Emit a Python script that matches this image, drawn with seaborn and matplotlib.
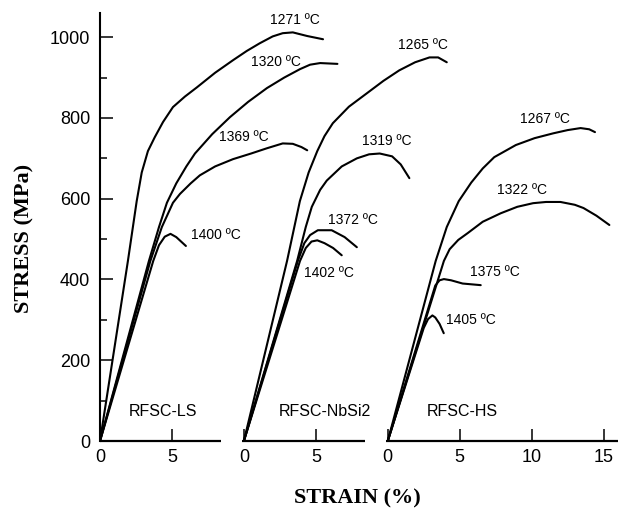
import matplotlib
matplotlib.use("Agg")
import matplotlib.pyplot as plt
import matplotlib.ticker as ticker
import pandas as pd
import seaborn as sns

sns.set_theme(style="ticks")
plt.rcParams["font.family"] = ["Liberation Sans", "DejaVu Sans"]

# --- stress-strain curves (strain %, stress MPa) ---
# RFSC-LS
ls_1271_strain = [0, 1.94, 2.55, 2.9, 3.33, 3.8, 4.38, 5.07, 5.9, 6.74, 8.0, 9.24, 10.2, 11.1, 12.0, 12.7, 13.4, 14.4, 15.5]
ls_1271_stress = [0, 446, 594, 665, 718, 752, 790, 827, 853, 876, 912, 943, 966, 985, 1002, 1010, 1012, 1003, 995]
ls_1320_strain = [0, 3.4, 4.1, 4.65, 5.3, 6.0, 6.6, 7.8, 9.03, 10.3, 11.6, 12.8, 13.9, 14.6, 15.3, 16.5]
ls_1320_stress = [0, 446, 530, 590, 638, 680, 712, 760, 802, 840, 874, 900, 921, 932, 936, 934]
ls_1369_strain = [0, 3.5, 4.3, 5.07, 5.56, 6.3, 6.94, 8.0, 9.24, 10.5, 11.6, 12.7, 13.4, 14.0, 14.4]
ls_1369_stress = [0, 446, 530, 590, 612, 638, 658, 680, 698, 712, 725, 737, 736, 728, 720]
ls_1400_strain = [0, 3.7, 4.1, 4.5, 4.9, 5.3, 5.97]
ls_1400_stress = [0, 446, 485, 506, 513, 505, 483]

# RFSC-NbSi2
nb_1265_strain = [0, 3.0, 3.89, 4.5, 5.1, 5.6, 6.18, 7.3, 8.54, 9.7, 10.8, 11.9, 12.9, 13.5, 14.1]
nb_1265_stress = [0, 446, 594, 665, 718, 755, 787, 828, 861, 892, 918, 938, 950, 950, 938]
nb_1319_strain = [0, 3.7, 4.3, 4.72, 5.3, 5.76, 6.8, 7.85, 8.7, 9.44, 10.3, 10.9, 11.5]
nb_1319_stress = [0, 446, 530, 580, 622, 645, 680, 700, 710, 712, 705, 685, 651]
nb_1372_strain = [0, 3.75, 4.2, 4.6, 5.14, 6.1, 7.0, 7.85]
nb_1372_stress = [0, 446, 490, 510, 522, 522, 505, 480]
nb_1402_strain = [0, 3.9, 4.3, 4.7, 5.1, 5.6, 6.2, 6.8]
nb_1402_stress = [0, 446, 478, 494, 497, 490, 478, 460]

# RFSC-HS
hs_1267_strain = [0, 3.33, 4.1, 4.93, 5.8, 6.6, 7.4, 8.9, 10.2, 11.5, 12.5, 13.4, 14.0, 14.4]
hs_1267_stress = [0, 446, 530, 594, 640, 675, 703, 733, 750, 762, 770, 775, 772, 765]
hs_1322_strain = [0, 3.9, 4.3, 4.9, 5.56, 6.6, 7.85, 9.0, 10.1, 11.0, 12.0, 13.0, 13.6, 14.5, 15.4]
hs_1322_stress = [0, 446, 475, 498, 515, 543, 564, 580, 589, 592, 592, 585, 577, 558, 535]
hs_1375_strain = [0, 3.0, 3.3, 3.6, 3.9, 4.4, 5.2, 6.46]
hs_1375_stress = [0, 350, 385, 398, 401, 398, 390, 386]
hs_1405_strain = [0, 2.5, 2.8, 3.1, 3.3, 3.6, 3.89]
hs_1405_stress = [0, 280, 302, 311, 306, 290, 267]

panels = ["RFSC-LS", "RFSC-NbSi2", "RFSC-HS"]
curves = [
    ("RFSC-LS", "1271 ºC", ls_1271_strain, ls_1271_stress),
    ("RFSC-LS", "1320 ºC", ls_1320_strain, ls_1320_stress),
    ("RFSC-LS", "1369 ºC", ls_1369_strain, ls_1369_stress),
    ("RFSC-LS", "1400 ºC", ls_1400_strain, ls_1400_stress),
    ("RFSC-NbSi2", "1265 ºC", nb_1265_strain, nb_1265_stress),
    ("RFSC-NbSi2", "1319 ºC", nb_1319_strain, nb_1319_stress),
    ("RFSC-NbSi2", "1372 ºC", nb_1372_strain, nb_1372_stress),
    ("RFSC-NbSi2", "1402 ºC", nb_1402_strain, nb_1402_stress),
    ("RFSC-HS", "1267 ºC", hs_1267_strain, hs_1267_stress),
    ("RFSC-HS", "1322 ºC", hs_1322_strain, hs_1322_stress),
    ("RFSC-HS", "1375 ºC", hs_1375_strain, hs_1375_stress),
    ("RFSC-HS", "1405 ºC", hs_1405_strain, hs_1405_stress),
]

# --- layout: each panel is shifted along one shared strain axis ---
PANEL_OFFSET = {"RFSC-LS": 0.0, "RFSC-NbSi2": 10.0, "RFSC-HS": 20.0}
PANEL_AXIS = {"RFSC-LS": (0.0, 8.4), "RFSC-NbSi2": (-0.15, 8.4), "RFSC-HS": (-0.1, 16.0)}
PANEL_TICKS = {"RFSC-LS": [0, 5], "RFSC-NbSi2": [0, 5], "RFSC-HS": [0, 5, 10, 15]}
PANEL_NAME_POS = {"RFSC-LS": (4.4, 72), "RFSC-NbSi2": (5.6, 72), "RFSC-HS": (5.2, 72)}
LABEL_POS = {
    "1271 ºC": (13.55, 1042), "1320 ºC": (12.25, 938), "1369 ºC": (10.0, 752),
    "1400 ºC": (8.06, 510), "1265 ºC": (12.45, 980), "1319 ºC": (9.94, 743),
    "1372 ºC": (7.58, 547), "1402 ºC": (5.91, 416), "1267 ºC": (10.92, 797),
    "1322 ºC": (9.33, 621), "1375 ºC": (7.45, 418), "1405 ºC": (5.78, 300),
}

rows = []
for i, (panel, temp, strain, stress) in enumerate(curves):
    off = PANEL_OFFSET[panel]
    for s, v in zip(strain, stress):
        rows.append({"curve": i, "panel": panel, "temp": temp, "x": s + off, "stress": v})
df = pd.DataFrame(rows)

fig = plt.figure(figsize=(6.26, 5.15), dpi=100)
ax = fig.add_axes([100 / 626, 74 / 515, 518 / 626, 428 / 515])

sns.lineplot(data=df, x="x", y="stress", units="curve", estimator=None, sort=False,
             color="black", linewidth=1.5, legend=False, ax=ax)

ax.set_xlim(0, 36.0)
ax.set_ylim(0, 1060)

for side in ["top", "right", "bottom"]:
    ax.spines[side].set_visible(False)
ax.spines["left"].set_linewidth(1.5)
ax.spines["left"].set_color("black")

# broken strain axis, one segment per panel
xticks, xlabels = [], []
for panel in panels:
    off = PANEL_OFFSET[panel]
    a, b = PANEL_AXIS[panel]
    ax.plot([a + off, b + off], [0, 0], color="black", linewidth=1.6,
            clip_on=False, solid_capstyle="butt")
    for t in PANEL_TICKS[panel]:
        xticks.append(t + off)
        xlabels.append(str(t))
    nx, ny = PANEL_NAME_POS[panel]
    ax.text(nx + off, ny, panel, ha="center", va="center", fontsize=11.5, color="black")

for panel, temp, strain, stress in curves:
    lx, ly = LABEL_POS[temp]
    ax.text(lx + PANEL_OFFSET[panel], ly, temp, ha="center", va="center",
            fontsize=10, color="black")

ax.set_xticks(xticks)
ax.set_xticklabels(xlabels)
ax.set_yticks(range(0, 1001, 200))
ax.yaxis.set_minor_locator(ticker.MultipleLocator(100))

ax.tick_params(axis="x", direction="in", length=9, width=1.1, pad=6,
               labelsize=13, color="black", labelcolor="black")
ax.tick_params(axis="y", which="major", direction="in", length=9.5, width=1.1,
               pad=7, labelsize=13, color="black", labelcolor="black")
ax.tick_params(axis="y", which="minor", direction="in", length=5, width=1.1, color="black")

ax.set_xlabel("")
ax.set_ylabel("")

fig.text(24 / 626, 1 - 238 / 515, "STRESS (MPa)", rotation=90, ha="center", va="center",
         fontsize=16, fontweight="bold", family=["Liberation Serif", "DejaVu Serif"], color="black")
fig.text(357 / 626, 1 - 498 / 515, "STRAIN (%)", ha="center", va="center",
         fontsize=16, fontweight="bold", family=["Liberation Serif", "DejaVu Serif"], color="black")

fig.savefig("out.png", dpi=100, facecolor="white")
plt.close(fig)
